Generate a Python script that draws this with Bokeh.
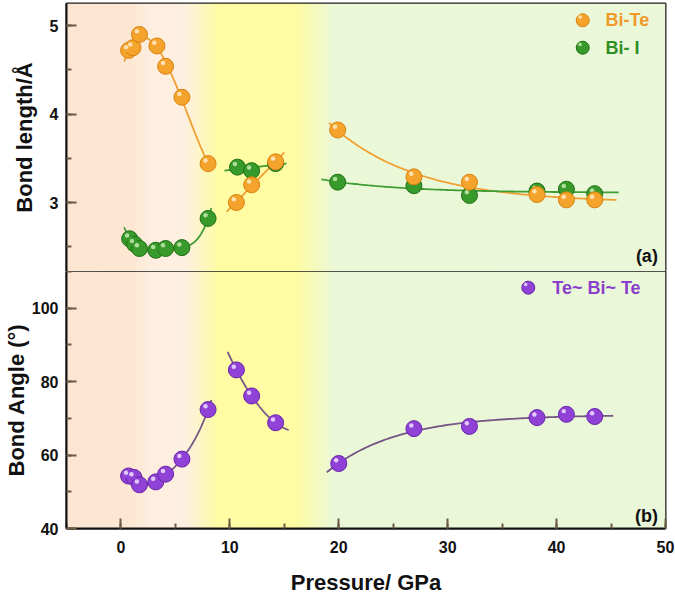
import numpy as np
from bokeh.plotting import figure
from bokeh.layouts import column
from bokeh.models import Range1d, SingleIntervalTicker, Label
from bokeh.embed import file_html
from bokeh.resources import INLINE

# ---------------- data ----------------
# Bi-Te bond length (Å)
bite_x1 = [0.7, 1.1, 1.7, 3.3, 4.1, 5.6, 8.0]
bite_y1 = [4.72, 4.75, 4.90, 4.77, 4.54, 4.19, 3.44]
bite_x2 = [10.6, 12.0, 14.2]
bite_y2 = [3.00, 3.20, 3.46]
bite_x3 = [19.9, 26.9, 32.0, 38.2, 40.9, 43.5]
bite_y3 = [3.82, 3.29, 3.23, 3.09, 3.03, 3.03]

# Bi-I bond length (Å)
bii_x1 = [0.8, 1.25, 1.7, 3.2, 4.1, 5.6, 8.0]
bii_y1 = [2.59, 2.53, 2.48, 2.46, 2.48, 2.49, 2.82]
bii_x2 = [10.7, 12.0, 14.2]
bii_y2 = [3.40, 3.36, 3.44]
bii_x3 = [19.9, 26.9, 32.0, 38.2, 40.9, 43.5]
bii_y3 = [3.23, 3.19, 3.08, 3.13, 3.15, 3.10]

# Te~Bi~Te bond angle (deg)
ang_x1 = [0.7, 1.2, 1.7, 3.2, 4.1, 5.6, 8.0]
ang_y1 = [54.3, 53.9, 51.9, 52.7, 54.8, 58.9, 72.4]
ang_x2 = [10.6, 12.0, 14.2]
ang_y2 = [83.2, 76.1, 68.8]
ang_x3 = [20.0, 26.9, 32.0, 38.2, 40.9, 43.5]
ang_y3 = [57.7, 67.2, 67.8, 70.2, 71.1, 70.5]

# extents of the fitted curves (pressure, GPa)
bite_fit_span = [(0.3, 8.3), (9.7, 15.0), (19.1, 45.5)]
bii_fit_span = [(0.3, 8.3), (9.5, 15.2), (18.4, 45.7)]
ang_fit_span = [(0.35, 8.3), (9.8, 15.4), (18.9, 45.2)]

x_title = "Pressure/ GPa"
y_title_a = "Bond length/Å"
y_title_b = "Bond Angle (°)"

# ---------------- styling ----------------
FONT = "Liberation Sans"
ORANGE = "#f4a42c"
ORANGE_EDGE = "#d8820f"
ORANGE_HI = "#ffe4b8"
GREEN = "#389a2a"
GREEN_EDGE = "#1f6f16"
GREEN_HI = "#b4e2a2"
PURPLE = "#9142d6"
PURPLE_EDGE = "#6722aa"
PURPLE_HI = "#e6d0ff"
ORANGE_LINE = "#f0a032"
GREEN_LINE = "#3f9d35"
PURPLE_LINE = "#735686"
TICK_COLOR = "#6b5a45"

XMIN, XMAX = -5, 50
TOP_Y = (2.22, 5.25)
BOT_Y = (40, 110)
FRAME_W = 599
TOP_H = 268
BOT_H = 257
LEFT = 64

px_per_x = FRAME_W / (XMAX - XMIN)
px_per_ytop = TOP_H / (TOP_Y[1] - TOP_Y[0])
px_per_ybot = BOT_H / (BOT_Y[1] - BOT_Y[0])

# background gradient stops (pressure -> colour)
grad_x = [-5, 1.0, 2.5, 6.0, 8.8, 16.0, 19.5, 50]
grad_r = [253, 253, 254, 254, 255, 255, 236, 234]
grad_g = [230, 232, 238, 241, 252, 253, 248, 248]
grad_b = [209, 211, 224, 224, 165, 163, 216, 218]


def gradient_image():
    n = 600
    gx = np.linspace(XMIN, XMAX, n)
    img = np.empty((2, n), dtype=np.uint32)
    view = img.view(dtype=np.uint8).reshape((2, n, 4))
    view[:, :, 0] = np.interp(gx, grad_x, grad_r).astype(np.uint8)
    view[:, :, 1] = np.interp(gx, grad_x, grad_g).astype(np.uint8)
    view[:, :, 2] = np.interp(gx, grad_x, grad_b).astype(np.uint8)
    view[:, :, 3] = 255
    return img


def poly_curve(xs, ys, deg, span):
    c = np.polyfit(xs, ys, deg)
    xx = np.linspace(span[0], span[1], 150)
    return xx, np.polyval(c, xx)


def exp_curve(xs, ys, span):
    xs = np.asarray(xs, float)
    ys = np.asarray(ys, float)
    x0 = span[0]
    best = None
    for t in np.linspace(3.0, 20.0, 341):
        A = np.column_stack([np.ones_like(xs), np.exp(-(xs - x0) / t)])
        coef, *_ = np.linalg.lstsq(A, ys, rcond=None)
        err = float(np.sum((A @ coef - ys) ** 2))
        if best is None or err < best[0]:
            best = (err, t, coef)
    _, t, coef = best
    xx = np.linspace(span[0], span[1], 150)
    return xx, coef[0] + coef[1] * np.exp(-(xx - x0) / t)


def balls(p, xs, ys, base, edge, hi, ppy, size=16):
    xs = np.asarray(xs, float)
    ys = np.asarray(ys, float)
    p.scatter(xs, ys, size=size, fill_color=base, line_color=edge, line_width=1)
    p.scatter(xs - 1.8 / px_per_x, ys + 2.2 / ppy, size=size * 0.55,
              fill_color=base, line_color=None, fill_alpha=1.0)
    p.scatter(xs - 2.6 / px_per_x, ys + 3.2 / ppy, size=size * 0.28,
              fill_color=hi, line_color=None, fill_alpha=0.95)


def style_frame(p):
    p.grid.visible = False
    p.outline_line_color = "#1c1c1c"
    p.outline_line_width = 2
    p.outline_line_alpha = 1
    p.background_fill_color = "#ffffff"
    p.border_fill_color = "#ffffff"
    ax = p.yaxis[0]
    ax.axis_line_width = 2
    ax.axis_line_color = "#111111"
    ax.major_tick_in = 10
    ax.major_tick_out = 0
    ax.minor_tick_in = 5
    ax.minor_tick_out = 0
    ax.major_tick_line_color = TICK_COLOR
    ax.minor_tick_line_color = TICK_COLOR
    ax.major_tick_line_width = 2
    ax.minor_tick_line_width = 2
    ax.major_label_text_font = FONT
    ax.major_label_text_font_size = "16px"
    ax.major_label_text_font_style = "bold"
    ax.major_label_text_color = "#111111"
    ax.major_label_standoff = 8
    ax.axis_label_text_font = FONT
    ax.axis_label_text_font_size = "22px"
    ax.axis_label_text_font_style = "bold"
    ax.axis_label_text_color = "#111111"


xr = Range1d(XMIN, XMAX)

# ---------------- panel (a) ----------------
p1 = figure(frame_width=FRAME_W, frame_height=TOP_H, x_range=xr,
            y_range=Range1d(*TOP_Y), output_backend="svg", toolbar_location=None,
            x_axis_location=None, min_border_left=LEFT, min_border_right=10,
            min_border_top=3, min_border_bottom=0)
style_frame(p1)
p1.yaxis.ticker = SingleIntervalTicker(interval=1, num_minor_ticks=2)
p1.yaxis.axis_label = y_title_a
p1.yaxis.axis_label_standoff = 10
p1.image_rgba(image=[gradient_image()], x=XMIN, y=TOP_Y[0],
              dw=XMAX - XMIN, dh=TOP_Y[1] - TOP_Y[0])

cx, cy = poly_curve(bite_x1, bite_y1, 3, bite_fit_span[0])
p1.line(cx, cy, line_color=ORANGE_LINE, line_width=1.8)
cx, cy = poly_curve(bite_x2, bite_y2, 1, bite_fit_span[1])
p1.line(cx, cy, line_color=ORANGE_LINE, line_width=1.8)
cx, cy = exp_curve(bite_x3, bite_y3, bite_fit_span[2])
p1.line(cx, cy, line_color=ORANGE_LINE, line_width=1.8)

cx, cy = poly_curve(bii_x1, bii_y1, 4, bii_fit_span[0])
p1.line(cx, cy, line_color=GREEN_LINE, line_width=1.8)
cx, cy = poly_curve(bii_x2, bii_y2, 1, bii_fit_span[1])
p1.line(cx, cy, line_color=GREEN_LINE, line_width=1.8)
cx, cy = exp_curve(bii_x3, bii_y3, bii_fit_span[2])
p1.line(cx, cy, line_color=GREEN_LINE, line_width=1.8)

for xs, ys in [(bii_x1, bii_y1), (bii_x2, bii_y2), (bii_x3, bii_y3)]:
    balls(p1, xs, ys, GREEN, GREEN_EDGE, GREEN_HI, px_per_ytop)
for xs, ys in [(bite_x1, bite_y1), (bite_x2, bite_y2), (bite_x3, bite_y3)]:
    balls(p1, xs, ys, ORANGE, ORANGE_EDGE, ORANGE_HI, px_per_ytop)

# legend (a)
balls(p1, [42.4], [5.06], ORANGE, ORANGE_EDGE, ORANGE_HI, px_per_ytop, size=13)
balls(p1, [42.4], [4.75], GREEN, GREEN_EDGE, GREEN_HI, px_per_ytop, size=13)
p1.add_layout(Label(x=44.5, y=5.06, text="Bi-Te", text_color="#ef9a2a",
                    text_font=FONT, text_font_style="bold", text_font_size="18px",
                    text_baseline="middle"))
p1.add_layout(Label(x=44.5, y=4.75, text="Bi- I", text_color="#2f8f22",
                    text_font=FONT, text_font_style="bold", text_font_size="18px",
                    text_baseline="middle"))
p1.add_layout(Label(x=49.3, y=2.40, text="(a)", text_color="#111111",
                    text_font=FONT, text_font_style="bold", text_font_size="18px",
                    text_baseline="middle", text_align="right"))

# ---------------- panel (b) ----------------
p2 = figure(frame_width=FRAME_W, frame_height=BOT_H, x_range=xr,
            y_range=Range1d(*BOT_Y), output_backend="svg", toolbar_location=None,
            min_border_left=LEFT, min_border_right=10, min_border_top=0)
style_frame(p2)
p2.yaxis.ticker = SingleIntervalTicker(interval=20, num_minor_ticks=2)
p2.yaxis.axis_label = y_title_b
p2.yaxis.axis_label_standoff = 0

xa = p2.xaxis[0]
xa.ticker = SingleIntervalTicker(interval=10, num_minor_ticks=2)
xa.axis_line_width = 2
xa.axis_line_color = "#111111"
xa.major_tick_in = 10
xa.major_tick_out = 0
xa.minor_tick_in = 5
xa.minor_tick_out = 0
xa.major_tick_line_color = TICK_COLOR
xa.minor_tick_line_color = TICK_COLOR
xa.major_tick_line_width = 2
xa.minor_tick_line_width = 2
xa.major_label_text_font = FONT
xa.major_label_text_font_size = "16px"
xa.major_label_text_font_style = "bold"
xa.major_label_text_color = "#111111"
xa.major_label_standoff = 12
xa.axis_label = x_title
xa.axis_label_text_font = FONT
xa.axis_label_text_font_size = "22px"
xa.axis_label_text_font_style = "bold"
xa.axis_label_text_color = "#111111"
xa.axis_label_standoff = 14

p2.image_rgba(image=[gradient_image()], x=XMIN, y=BOT_Y[0],
              dw=XMAX - XMIN, dh=BOT_Y[1] - BOT_Y[0])

cx, cy = poly_curve(ang_x1, ang_y1, 4, ang_fit_span[0])
p2.line(cx, cy, line_color=PURPLE_LINE, line_width=1.8)
cx, cy = poly_curve(ang_x2, ang_y2, 2, ang_fit_span[1])
p2.line(cx, cy, line_color=PURPLE_LINE, line_width=1.8)
cx, cy = exp_curve(ang_x3, ang_y3, ang_fit_span[2])
p2.line(cx, cy, line_color=PURPLE_LINE, line_width=1.8)

for xs, ys in [(ang_x1, ang_y1), (ang_x2, ang_y2), (ang_x3, ang_y3)]:
    balls(p2, xs, ys, PURPLE, PURPLE_EDGE, PURPLE_HI, px_per_ybot)

balls(p2, [37.4], [105.6], PURPLE, PURPLE_EDGE, PURPLE_HI, px_per_ybot, size=13)
p2.add_layout(Label(x=39.6, y=105.6, text="Te~ Bi~ Te", text_color="#8a3fcc",
                    text_font=FONT, text_font_style="bold", text_font_size="18px",
                    text_baseline="middle"))
p2.add_layout(Label(x=49.3, y=43.5, text="(b)", text_color="#111111",
                    text_font=FONT, text_font_style="bold", text_font_size="18px",
                    text_baseline="middle", text_align="right"))

layout = column(p1, p2, spacing=0)
open("out.html", "w").write(file_html(layout, INLINE))
